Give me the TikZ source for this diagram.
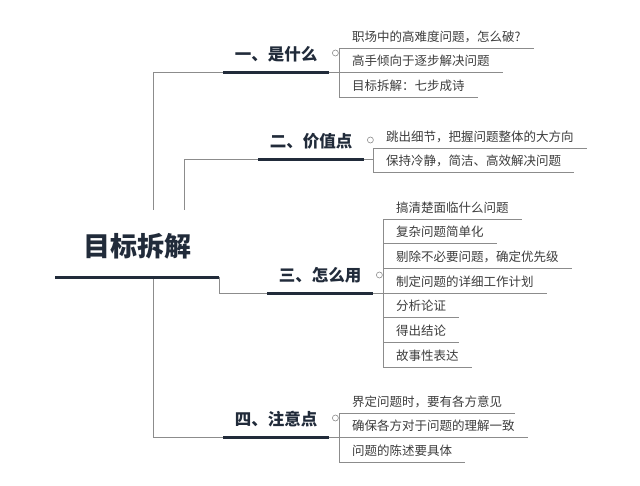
\documentclass[tikz,border=0pt]{standalone}
\usepackage{fontspec}
\newfontfamily\cjk{Noto Sans CJK SC}
\usepackage{xcolor}
\definecolor{navy}{RGB}{33,43,58}
\definecolor{linegray}{RGB}{140,140,140}
\definecolor{leaftext}{RGB}{60,60,60}

\begin{document}
\begin{tikzpicture}[x=1pt, y=-1pt,
    rootnode/.style={anchor=south west, font=\cjk\bfseries\fontsize{27}{32}\selectfont, text=navy, inner xsep=28pt, inner ysep=18pt, text height=29pt, text depth=2pt},
    branch/.style={anchor=south west, font=\cjk\bfseries\fontsize{16.5}{20}\selectfont, text=navy, inner xsep=11.75pt, inner ysep=9pt, text height=13pt, text depth=2pt},
    leaf/.style={anchor=south west, font=\cjk\fontsize{12.5}{15}\selectfont, text=leaftext, inner xsep=13pt, inner ysep=4.5pt, text height=10pt, text depth=2pt},
    conn/.style={draw=linegray, line width=1pt},
    under/.style={draw=navy, line width=3pt},
    fold/.style={circle, draw=linegray, line width=0.6pt, inner sep=0pt, minimum size=6pt}
]
    \useasboundingbox (0,0) rectangle (640,485);

    % Central topic
    \node[rootnode] (root) at (55,277) {目标拆解};

    % Main branches
    \node[branch] (b1) at (223,72) {一、是什么};
    \node[branch] (b2) at (258,159) {二、价值点};
    \node[branch] (b3) at (267,293) {三、怎么用};
    \node[branch] (b4) at (223,437) {四、注意点};

    % Leaves of branch 1
    \node[leaf] (c11) at (339,48) {职场中的高难度问题，怎么破?};
    \node[leaf] (c12) at (339,72) {高手倾向于逐步解决问题};
    \node[leaf] (c13) at (339,97) {目标拆解：七步成诗};

    % Leaves of branch 2
    \node[leaf] (c21) at (373,148) {跳出细节，把握问题整体的大方向};
    \node[leaf] (c22) at (373,172) {保持冷静，简洁、高效解决问题};

    % Leaves of branch 3
    \node[leaf] (c31) at (383,219) {搞清楚面临什么问题};
    \node[leaf] (c32) at (383,243) {复杂问题简单化};
    \node[leaf] (c33) at (383,268) {剔除不必要问题，确定优先级};
    \node[leaf] (c34) at (383,293) {制定问题的详细工作计划};
    \node[leaf] (c35) at (383,317) {分析论证};
    \node[leaf] (c36) at (383,342) {得出结论};
    \node[leaf] (c37) at (383,367) {故事性表达};

    % Leaves of branch 4
    \node[leaf] (c41) at (339,413) {界定问题时，要有各方意见};
    \node[leaf] (c42) at (339,437) {确保各方对于问题的理解一致};
    \node[leaf] (c43) at (339,462) {问题的陈述要具体};

    % Root to branches
    \draw[conn] ([xshift=98pt]root.north west) |- (b1.south west);
    \draw[conn] ([xshift=129pt]root.north west) |- (b2.south west);
    \draw[conn] (root.south east) |- (b3.south west);
    \draw[conn] ([xshift=98pt]root.south west) |- (b4.south west);

    % Branches to leaf brackets
    \draw[conn] (b1.south east) -- (c12.south west);
    \draw[conn] (c11.south west) -- (c13.south west);
    \draw[conn] (b2.south east) -- (b2.south east -| c21.south west);
    \draw[conn] (c21.south west) -- (c22.south west);
    \draw[conn] (b3.south east) -- (c34.south west);
    \draw[conn] (c31.south west) -- (c37.south west);
    \draw[conn] (b4.south east) -- (c42.south west);
    \draw[conn] (c41.south west) -- (c43.south west);

    % Leaf underlines
    \draw[conn] (c11.south west) -- (c11.south east);
    \draw[conn] (c12.south west) -- (c12.south east);
    \draw[conn] (c13.south west) -- (c13.south east);
    \draw[conn] (c21.south west) -- (c21.south east);
    \draw[conn] (c22.south west) -- (c22.south east);
    \draw[conn] (c31.south west) -- (c31.south east);
    \draw[conn] (c32.south west) -- (c32.south east);
    \draw[conn] (c33.south west) -- (c33.south east);
    \draw[conn] (c34.south west) -- (c34.south east);
    \draw[conn] (c35.south west) -- (c35.south east);
    \draw[conn] (c36.south west) -- (c36.south east);
    \draw[conn] (c37.south west) -- (c37.south east);
    \draw[conn] (c41.south west) -- (c41.south east);
    \draw[conn] (c42.south west) -- (c42.south east);
    \draw[conn] (c43.south west) -- (c43.south east);

    % Topic underlines
    \draw[under] (root.south west) -- (root.south east);
    \draw[under] (b1.south west) -- (b1.south east);
    \draw[under] (b2.south west) -- (b2.south east);
    \draw[under] (b3.south west) -- (b3.south east);
    \draw[under] (b4.south west) -- (b4.south east);

    % Collapse markers
    \node[fold] (f1) at ([shift={(6,-19)}]b1.south east) {};
    \node[fold] (f2) at ([shift={(6,-19)}]b2.south east) {};
    \node[fold] (f3) at ([shift={(6,-18)}]b3.south east) {};
    \node[fold] (f4) at ([shift={(6,-19)}]b4.south east) {};
\end{tikzpicture}
\end{document}
